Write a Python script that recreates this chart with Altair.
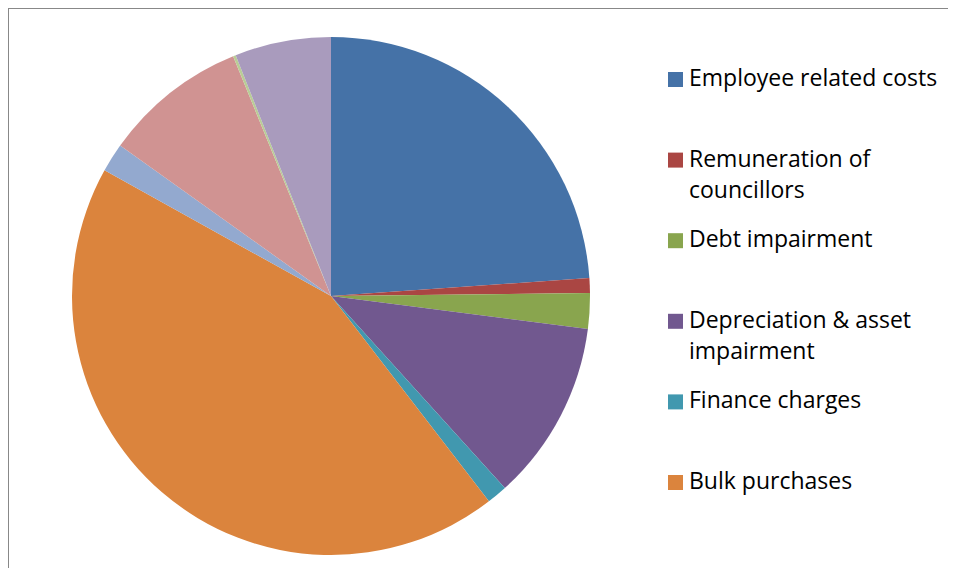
import altair as alt
import pandas as pd

categories = ["Employee related costs", "Remuneration of councillors", "Debt impairment",
              "Depreciation & asset impairment", "Finance charges", "Bulk purchases",
              "Other materials", "Contracted services", "Transfers and grants", "Other expenditure"]
shares = [23.9, 0.92, 2.22, 11.25, 1.28, 43.5, 1.8, 8.97, 0.17, 6.0]
colors = ["#4572A7", "#AA4643", "#89A54E", "#71588F", "#4198AF", "#DB843D",
          "#93A9CF", "#D09392", "#B9CD96", "#A99BBD"]
legend_shown = categories[:6]

df = pd.DataFrame({"category": categories, "share": shares, "order": list(range(len(categories)))})

label_expr = ("datum.label == 'Remuneration of councillors' ? ['Remuneration of', 'councillors'] : "
              "datum.label == 'Depreciation & asset impairment' ? ['Depreciation & asset', 'impairment'] : "
              "datum.label")

pie = alt.Chart(df).mark_arc(radius=259, strokeWidth=0).encode(
    theta=alt.Theta("share:Q", stack=True),
    order=alt.Order("order:Q"),
    color=alt.Color(
        "category:N",
        scale=alt.Scale(domain=categories, range=colors),
        legend=alt.Legend(
            values=legend_shown, orient="none", legendX=656, legendY=60, title=None,
            symbolType="square", symbolSize=225, symbolStrokeWidth=0,
            labelFont="Open Sans", labelFontSize=23, labelColor="#000000", labelOffset=2,
            rowPadding=26.6, gridAlign="all", labelLimit=400, labelExpr=label_expr,
            labelBaseline="top",
        ),
    ),
    x=alt.value(323),
    y=alt.value(288),
)

border = alt.Data(values=[{"k": 1}])
top_line = alt.Chart(border).mark_rule(color="#888888", strokeWidth=2).encode(
    x=alt.value(0), x2=alt.value(940), y=alt.value(0))
left_line = alt.Chart(border).mark_rule(color="#888888", strokeWidth=2).encode(
    x=alt.value(0), y=alt.value(0), y2=alt.value(560))

chart = alt.layer(pie, top_line, left_line).properties(
    width=940, height=560, autosize=alt.AutoSizeParams(type="none"), padding=0
).configure_view(stroke=None).configure(
    style={"guide-label": {"lineHeight": 31, "dy": -11.5}}
)

chart.save("out.html", embed_options={"renderer": "svg", "actions": False})
